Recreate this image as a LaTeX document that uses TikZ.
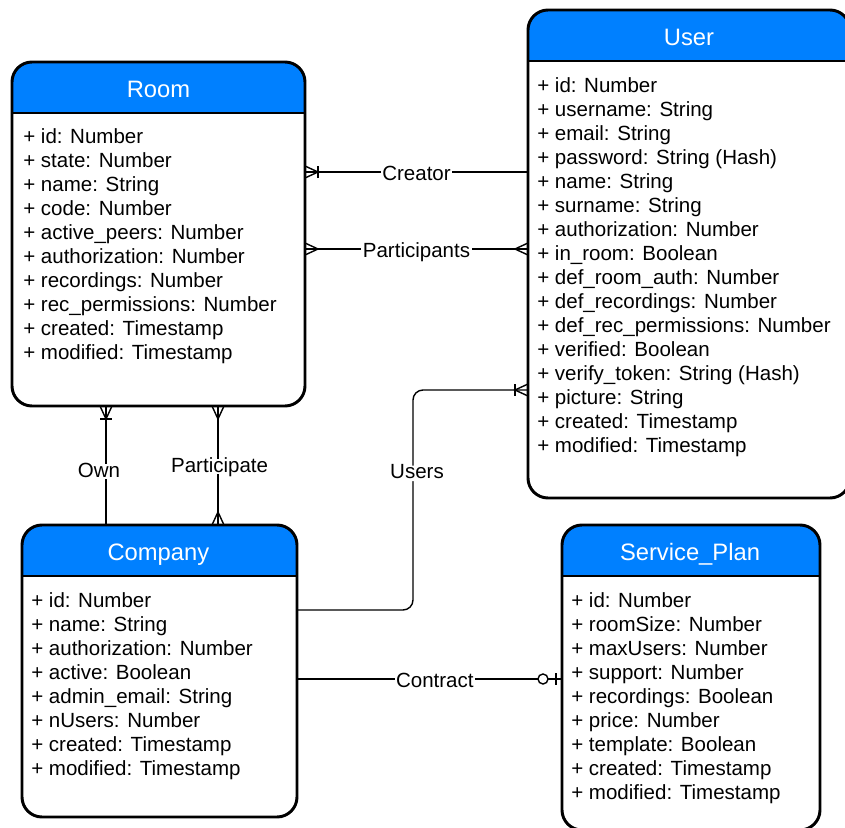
\documentclass[tikz,border=0pt]{standalone}
\usepackage{fontspec}
\setmainfont{Liberation Sans}
\usepackage{tikz}
\usetikzlibrary{decorations.markings}
\pgfdeclarelayer{nodelayer}
\pgfdeclarelayer{edgelayer}
\pgfsetlayers{nodelayer,edgelayer,main}
\definecolor{headblue}{RGB}{0,128,255}
\tikzset{
  classbox/.style={draw, line width=2.1pt, rounded corners=0.5cm, fill=white, inner sep=0pt, outer sep=0pt,
    path picture={
      \fill [headblue, sharp corners] (path picture bounding box.north west) rectangle ([yshift=-1.275cm]path picture bounding box.north east);
      \draw [line width=2.1pt, sharp corners] ([yshift=-1.275cm]path picture bounding box.north west) -- ([yshift=-1.275cm]path picture bounding box.north east);
    }},
  classtitle/.style={anchor=base, text=white, font=\fontsize{16.9pt}{20pt}\selectfont},
  classattrs/.style={anchor=north west, align=left, inner sep=0pt, font=\fontsize{14.6pt}{17.07pt}\selectfont},
  rel/.style={line width=1pt},
  rellabel/.style={fill=white, inner sep=1pt, text height=0.85em, text depth=0.05em, yshift=-0.06cm, font=\fontsize{14.6pt}{17.07pt}\selectfont},
  crowend/.style={postaction={decorate, decoration={markings, mark=at position 1 with {
    \draw [sharp corners, line width=1pt] (0,0.15) -- (-0.325,0) -- (0,-0.15);}}}},
  crowstart/.style={postaction={decorate, decoration={markings, mark=at position 0 with {
    \draw [sharp corners, line width=1pt] (0,0.15) -- (0.325,0) -- (0,-0.15);}}}},
  crowbarend/.style={postaction={decorate, decoration={markings, mark=at position 1 with {
    \draw [sharp corners, line width=1pt] (0,0.15) -- (-0.325,0) -- (0,-0.15);
    \draw [sharp corners, line width=1pt] (-0.325,0.15) -- (-0.325,-0.15);}}}},
  ringbarend/.style={postaction={decorate, decoration={markings, mark=at position 1 with {
    \draw [sharp corners, line width=1pt] (-0.15,0.15) -- (-0.15,-0.15);
    \draw [line width=1pt, fill=white] (-0.475,0) circle (0.125);}}}}
}
\begin{document}
\begin{tikzpicture}
  \useasboundingbox (0,0) rectangle (21.125,-20.7);
  \begin{pgfonlayer}{nodelayer}
    \node [classbox, minimum width=7.325cm, minimum height=8.6cm] (0) at (3.9625, -5.85) {};
    \node [classtitle] (1) at (3.9625, -2.4375) {Room};
    \node [classattrs] (2) at (0.575, -3.2) {+ id: Number\\+ state: Number\\+ name: String\\+ code: Number\\+ active\_peers: Number\\+ authorization: Number\\+ recordings: Number\\+ rec\_permissions: Number\\+ created: Timestamp\\+ modified: Timestamp};
    \node [classbox, minimum width=8.05cm, minimum height=12.2cm] (3) at (17.225, -6.35) {};
    \node [classtitle] (4) at (17.225, -1.1375) {User};
    \node [classattrs] (5) at (13.425, -1.925) {+ id: Number\\+ username: String\\+ email: String\\+ password: String (Hash)\\+ name: String\\+ surname: String\\+ authorization: Number\\+ in\_room: Boolean\\+ def\_room\_auth: Number\\+ def\_recordings: Number\\+ def\_rec\_permissions: Number\\+ verified: Boolean\\+ verify\_token: String (Hash)\\+ picture: String\\+ created: Timestamp\\+ modified: Timestamp};
    \node [classbox, minimum width=6.875cm, minimum height=7.3cm] (6) at (3.9875, -16.775) {};
    \node [classtitle] (7) at (3.96, -14.0125) {Company};
    \node [classattrs] (8) at (0.775, -14.8) {+ id: Number\\+ name: String\\+ authorization: Number\\+ active: Boolean\\+ admin\_email: String\\+ nUsers: Number\\+ created: Timestamp\\+ modified: Timestamp};
    \node [classbox, minimum width=6.45cm, minimum height=7.625cm] (9) at (17.275, -16.9375) {};
    \node [classtitle] (10) at (17.25, -14.0125) {Service\_Plan};
    \node [classattrs] (11) at (14.275, -14.8) {+ id: Number\\+ roomSize: Number\\+ maxUsers: Number\\+ support: Number\\+ recordings: Boolean\\+ price: Number\\+ template: Boolean\\+ created: Timestamp\\+ modified: Timestamp};
  \end{pgfonlayer}
  \begin{pgfonlayer}{edgelayer}
    \draw [rel, crowbarend] (3.west |- 0,-4.3) to node [rellabel] (12) {Creator} (0.east |- 0,-4.3);
    \draw [rel, crowstart, crowend] (0.east |- 0,-6.225) to node [rellabel] (13) {Participants} (3.west |- 0,-6.225);
    \draw [rel, crowbarend] (6.north -| 2.65,0) to node [rellabel, pos=0.47, xshift=-0.175cm] (14) {Own} (0.south -| 2.65,0);
    \draw [rel, crowstart, crowend] (6.north -| 5.45,0) to node [rellabel, pos=0.51, xshift=0.04cm] (15) {Participate} (0.south -| 5.45,0);
    \draw [rel, crowbarend, rounded corners=0.25cm] (6.east |- 0,-15.25) -| node [rellabel, pos=0.816, xshift=0.1cm] (16) {Users} (10.325,-9.75) -- (3.west |- 0,-9.75);
    \draw [rel, ringbarend] (6.east |- 0,-16.975) to node [rellabel, pos=0.52] (17) {Contract} (9.west |- 0,-16.975);
  \end{pgfonlayer}
\end{tikzpicture}
\end{document}
